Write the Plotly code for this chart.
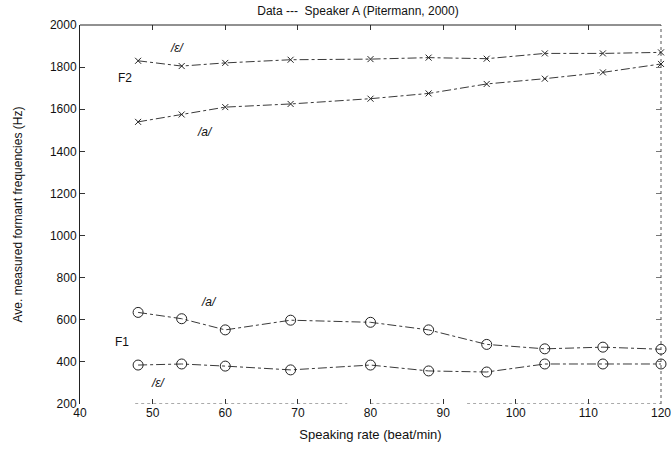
import plotly.graph_objects as go

# Speaking rate (beat/min)
rate = [48, 54, 60, 69, 80, 88, 96, 104, 112, 120]

# Average measured formant frequencies (Hz)
f2_eps = [1830, 1805, 1820, 1835, 1838, 1845, 1840, 1865, 1865, 1870]
f2_a = [1540, 1575, 1610, 1625, 1650, 1675, 1720, 1745, 1775, 1815]
f1_a = [635, 605, 552, 598, 588, 552, 483, 462, 470, 460]
f1_eps = [385, 390, 380, 362, 385, 357, 352, 390, 390, 390]

x_ticks = [40, 50, 60, 70, 80, 90, 100, 110, 120]
y_ticks = [200, 400, 600, 800, 1000, 1200, 1400, 1600, 1800, 2000]

FONT = "Liberation Sans, Arial, sans-serif"
LINE = "#3a3a3a"

fig = go.Figure()

def add_series(y, symbol, size):
    fig.add_trace(go.Scatter(
        x=rate, y=y, mode="lines+markers",
        line=dict(color=LINE, width=1, dash="dashdot"),
        marker=dict(symbol=symbol, size=size, color="#222222",
                    line=dict(color="#222222", width=1)),
        showlegend=False, hoverinfo="skip", cliponaxis=False))

add_series(f2_eps, "x-thin-open", 6)
add_series(f2_a, "x-thin-open", 6)
add_series(f1_a, "circle-open", 10)
add_series(f1_eps, "circle-open", 10)

# Labels inside the plot
labels = [
    ("F2", 46.2, 1748, False),
    ("/ε/", 53.4, 1892, True),
    ("/a/", 57.2, 1492, True),
    ("/a/", 57.8, 684, True),
    ("F1", 45.8, 494, False),
    ("/ε/", 50.8, 302, True),
]
for txt, xv, yv, ital in labels:
    fig.add_annotation(x=xv, y=yv, text=f"<i>{txt}</i>" if ital else txt,
                       showarrow=False, font=dict(family=FONT, size=12, color="#111"))

# Frame: solid top edge, dotted right edge and dotted baseline
fig.add_shape(type="line", xref="paper", yref="paper", x0=0, x1=1, y0=1, y1=1,
              line=dict(color="#222", width=1))
fig.add_shape(type="line", xref="paper", yref="paper", x0=1, x1=1, y0=0, y1=1,
              line=dict(color="#555", width=1, dash="dot"))
for a, b in [(47.6, 76.8), (80.0, 89.9), (93.3, 120)]:
    fig.add_shape(type="line", xref="x", yref="y", x0=a, x1=b, y0=200, y1=200,
                  line=dict(color="#555", width=1, dash="dot"))

axis_common = dict(showgrid=False, zeroline=False, ticks="inside", ticklen=5,
                   tickcolor="#333", tickwidth=1, automargin=False,
                   tickfont=dict(family=FONT, size=12, color="#111"))

fig.update_layout(
    width=671, height=449,
    margin=dict(l=80, r=10, t=25, b=45),
    paper_bgcolor="white", plot_bgcolor="white",
    title=dict(text="Data ---  Speaker A (Pitermann, 2000)", x=358 / 671,
               xanchor="center", y=0.985, yanchor="top",
               font=dict(family=FONT, size=12, color="#111")),
    xaxis=dict(range=[40, 120], tickvals=x_ticks, showline=False,
               ticklabeloverflow="allow",
               title=dict(text="Speaking rate (beat/min)", standoff=10,
                          font=dict(family=FONT, size=13, color="#111")),
               **axis_common),
    yaxis=dict(range=[200, 2000], tickvals=y_ticks, showline=True,
               linecolor="#222", linewidth=1,
               title=dict(text="Ave. measured formant frequencies (Hz)", standoff=24,
                          font=dict(family=FONT, size=12, color="#111")),
               **axis_common),
    xaxis2=dict(range=[40, 120], tickvals=x_ticks, overlaying="x", side="top",
                showticklabels=False, showgrid=False, zeroline=False, automargin=False,
                ticks="inside", ticklen=5, tickcolor="#333"),
    yaxis2=dict(range=[200, 2000], tickvals=y_ticks, overlaying="y", side="right",
                showticklabels=False, showgrid=False, zeroline=False, automargin=False,
                ticks="inside", ticklen=5, tickcolor="#777"),
)

# Invisible traces to activate the mirrored tick axes
fig.add_trace(go.Scatter(x=[40], y=[200], xaxis="x2", yaxis="y", mode="markers",
                         marker=dict(opacity=0), showlegend=False, hoverinfo="skip"))
fig.add_trace(go.Scatter(x=[40], y=[200], xaxis="x", yaxis="y2", mode="markers",
                         marker=dict(opacity=0), showlegend=False, hoverinfo="skip"))

fig.write_html("out.html")
